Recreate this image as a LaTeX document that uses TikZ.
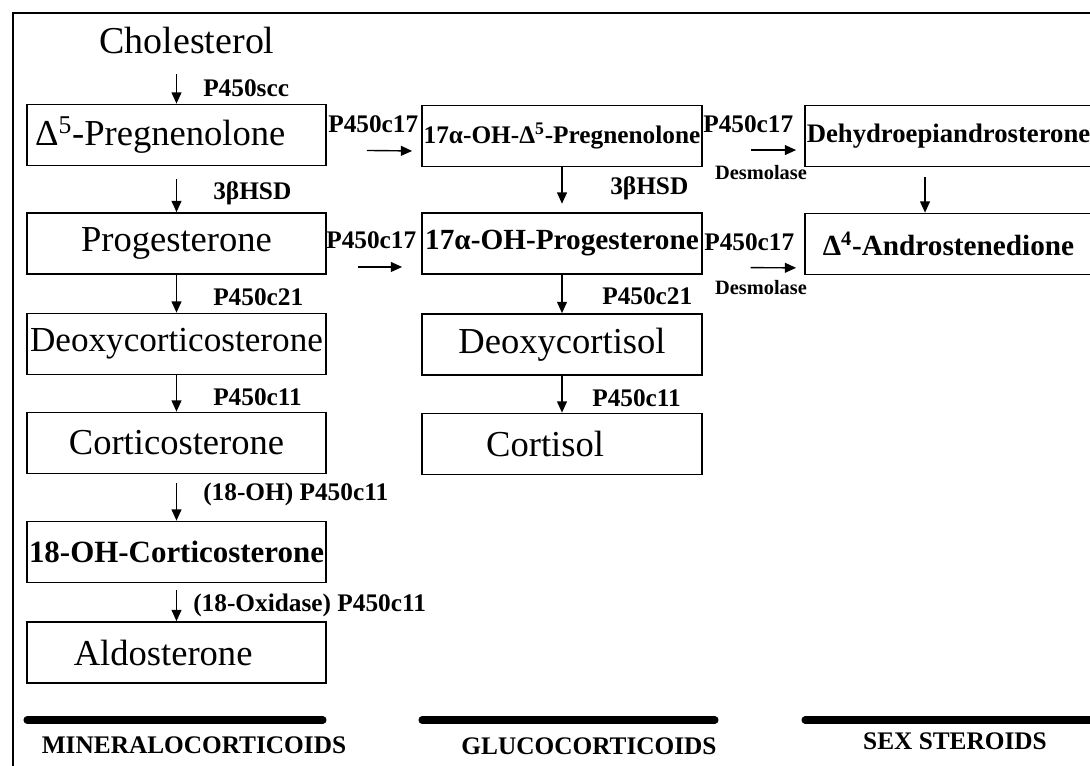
\documentclass[tikz,border=0pt]{standalone}
\usepackage{fontspec}
\setmainfont{Liberation Serif}
\usetikzlibrary{arrows.meta}

\begin{document}
\begin{tikzpicture}[
  x=0.025cm, y=-0.025cm,
  box/.style={draw, line width=1.2pt, minimum height=1.525cm, inner sep=0pt, font=\fontsize{26}{28}\selectfont},
  leftbox/.style={box, minimum width=7.475cm},
  midbox/.style={box, minimum width=7cm},
  rightbox/.style={box, minimum width=7.175cm},
  enz/.style={font=\fontsize{18}{20}\selectfont\bfseries, inner sep=0pt, anchor=west},
  desm/.style={font=\fontsize{14.5}{16}\selectfont\bfseries, inner sep=0pt},
  group/.style={font=\fontsize{18}{20}\selectfont\bfseries, inner sep=0pt},
  arr/.style={-{Triangle[length=8pt,width=7pt]}, line width=1pt},
  bar/.style={line width=5pt, line cap=round},
]
\clip (0,0) rectangle (1090,766);

% outer frame
\draw[line width=1pt] (13,780) -- (13,13) -- (1100,13);

% Mineralocorticoid pathway
\node[font=\fontsize{27}{29}\selectfont, inner sep=0pt] (chol) at (187,41) {Cholesterol};
\node[leftbox] (preg) at (176.5,135) {Δ\textsuperscript{5}-Pregnenolone\kern23pt};
\node[leftbox] (prog) at (176.5,243.5) {Progesterone};
\node[leftbox, font=\fontsize{25}{27}\selectfont] (doc) at (176.5,344) {Deoxycorticosterone};
\node[leftbox] (cortico) at (176.5,443) {Corticosterone};
\node[leftbox, font=\fontsize{22}{24}\selectfont\bfseries] (ohcortico) at (176.5,552) {18-OH-Corticosterone};
\node[leftbox] (aldo) at (176.5,652.5) {Aldosterone\kern19pt};

% Glucocorticoid pathway
\node[midbox, font=\fontsize{18}{20}\selectfont\bfseries] (ohpreg) at (562,136) {17α-OH-Δ\textsuperscript{5}-Pregnenolone};
\node[midbox, font=\fontsize{20.8}{22}\selectfont\bfseries] (ohprog) at (562,243.5) {17α-OH-Progesterone};
\node[midbox] (deoxycortisol) at (562,344.5) {Deoxycortisol};
\node[midbox] (cortisol) at (562,444) {Cortisol\kern24pt};

% Sex steroid pathway
\node[rightbox, font=\fontsize{19}{21}\selectfont\bfseries] (dhea) at (948.5,136) {Dehydroepiandrosterone};
\node[rightbox, font=\fontsize{20.8}{22}\selectfont\bfseries] (andro) at (948.5,244) {Δ\textsuperscript{4}-Androstenedione};

% vertical steps
\draw[arr, shorten <=14pt] (chol.south -| preg.north) -- (preg.north);
\draw[arr, shorten <=9pt] (preg.south) -- (prog.north);
\draw[arr] (prog.south) -- (doc.north);
\draw[arr] (doc.south) -- (cortico.north);
\draw[arr, shorten <=6pt] (cortico.south) -- (ohcortico.north);
\draw[arr, shorten <=5pt] (ohcortico.south) -- (aldo.north);
\draw[arr, shorten >=6pt] (ohpreg.south) -- (ohprog.north);
\draw[arr] (ohprog.south) -- (deoxycortisol.north);
\draw[arr] (deoxycortisol.south) -- (cortisol.north);
\draw[arr, shorten <=7pt] ([xshift=-16.7pt]dhea.south) -- ([xshift=-16.7pt]andro.north);

% horizontal steps
\draw[arr, shorten <=28.5pt, shorten >=6.4pt] ([yshift=-10.7pt]preg.east) -- ([yshift=-10.7pt]ohpreg.west);
\draw[arr, shorten <=22pt, shorten >=13.5pt] ([yshift=-16.7pt]prog.east) -- ([yshift=-16.7pt]ohprog.west);
\draw[arr, shorten <=34pt, shorten >=5.7pt] ([yshift=-10pt]ohpreg.east) -- ([yshift=-10pt]dhea.west);
\draw[arr, shorten <=34pt, shorten >=5.7pt] ([yshift=-17pt]ohprog.east) -- ([yshift=-17pt]andro.west);

% enzymes
\node[enz] (scc) at (203,88) {P450scc};
\node[enz] (hsdA) at (213,193) {3βHSD};
\node[enz] (c21A) at (213,297) {P450c21};
\node[enz] (c11A) at (213,397) {P450c11};
\node[enz] (c11B) at (203,494) {(18-OH) P450c11};
\node[enz] (c11C) at (193,605) {(18-Oxidase) P450c11};
\node[enz] (hsdB) at (610,188) {3βHSD};
\node[enz] (c21B) at (602,296) {P450c21};
\node[enz] (c11D) at (592,398) {P450c11};
\node[enz] (c17A) at (328,124) {P450c17};
\node[enz] (c17B) at (326,240) {P450c17};
\node[enz] (c17C) at (703,124) {P450c17};
\node[enz] (c17D) at (704,242) {P450c17};
\node[desm] (desA) at (761,173) {Desmolase};
\node[desm] (desB) at (761,288) {Desmolase};

% groups
\draw[bar] (27,720) -- (323,720);
\draw[bar] (422,720) -- (715,720);
\draw[bar] (805,720) -- (1100,720);
\node[group] (mineral) at (194,745) {MINERALOCORTICOIDS};
\node[group] (gluco) at (589,746) {GLUCOCORTICOIDS};
\node[group] (sex) at (955,741) {SEX STEROIDS};
\end{tikzpicture}
\end{document}
